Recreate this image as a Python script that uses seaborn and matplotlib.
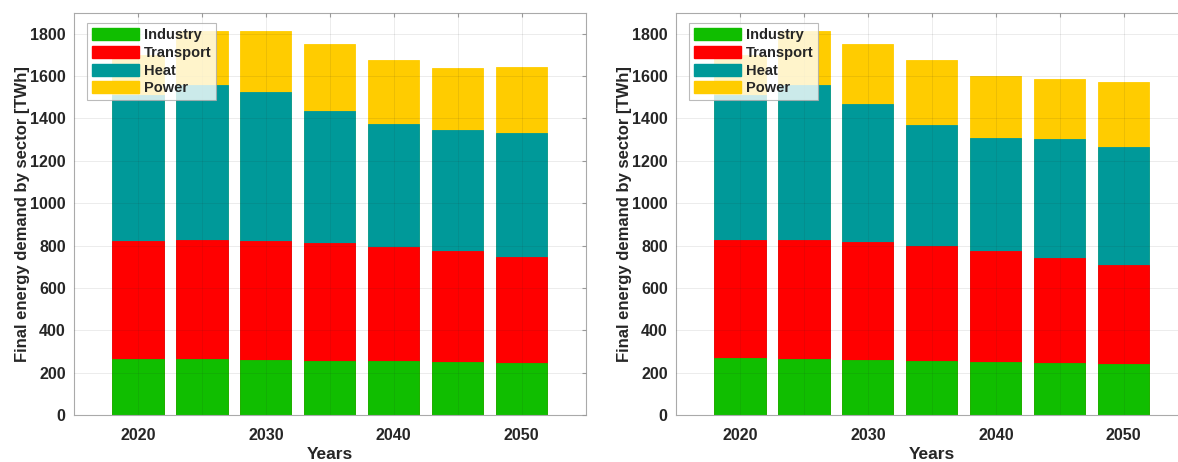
import numpy as np
import pandas as pd
import matplotlib
matplotlib.use("Agg")
import matplotlib.pyplot as plt
import seaborn as sns
from matplotlib.patches import Patch

# Years and sectors
years = [2020, 2025, 2030, 2035, 2040, 2045, 2050]
sectors = ["Industry", "Transport", "Heat", "Power"]
colors = ["#10BE00", "#FF0000", "#009999", "#FFCC00"]

# Left scenario [TWh]
left_industry = [266, 265, 261, 257, 254, 251, 246]
left_transport = [554, 560, 559, 553, 540, 522, 500]
left_heat = [690, 731, 704, 625, 581, 572, 585]
left_power = [190, 259, 288, 317, 300, 291, 310]

# Right scenario [TWh]
right_industry = [271, 263, 258, 253, 249, 244, 239]
right_transport = [554, 562, 558, 547, 524, 499, 468]
right_heat = [684, 735, 654, 569, 536, 560, 558]
right_power = [191, 252, 282, 305, 292, 284, 308]

sns.set_style("white")
plt.rcParams["font.family"] = ["Liberation Sans", "DejaVu Sans"]
plt.rcParams["font.weight"] = "bold"

fig = plt.figure(figsize=(11.78, 4.62), dpi=100)
ax1 = fig.add_axes([74 / 1178, 47 / 462, 511.7 / 1178, 402.5 / 462])
ax2 = fig.add_axes([676 / 1178, 47 / 462, 511.7 / 1178, 402.5 / 462])


def draw_panel(ax, layers):
    # cumulative stacks, drawn from the top layer down
    cum = np.cumsum(np.array(layers), axis=0)
    for i in range(len(layers) - 1, -1, -1):
        df = pd.DataFrame({"year": years, "value": cum[i]})
        sns.barplot(data=df, x="year", y="value", native_scale=True, width=0.8,
                    color=colors[i], saturation=1, edgecolor=colors[i],
                    linewidth=0.6, ax=ax, zorder=1)
    ax.set_xlim(2015, 2055)
    ax.set_ylim(0, 1900)
    ax.set_xticks(years)
    ax.set_xticklabels([str(y) if y % 10 == 0 else "" for y in years])
    ax.set_yticks(range(0, 1801, 200))
    ax.set_axisbelow(False)
    ax.grid(True, color="#262626", alpha=0.1, linewidth=0.6)
    ax.tick_params(direction="in", top=True, right=True, length=3,
                   color="#999999", labelsize=11.5, labelcolor="#262626")
    ax.tick_params(axis="x", pad=9)
    ax.tick_params(axis="y", pad=6)
    for lab in ax.get_xticklabels() + ax.get_yticklabels():
        lab.set_fontweight("bold")
    for sp in ax.spines.values():
        sp.set_color("#AAAAAA")
        sp.set_linewidth(0.8)
    ax.set_xlabel("Years", fontsize=12.5, fontweight="bold", color="#262626", labelpad=3)
    ax.set_ylabel("Final energy demand by sector [TWh]", fontsize=12,
                  fontweight="bold", color="#262626", labelpad=0)
    handles = [Patch(facecolor=c, edgecolor=c, label=s) for c, s in zip(colors, sectors)]
    leg = ax.legend(handles=handles, loc="upper left", bbox_to_anchor=(0.025, 0.974),
                    borderaxespad=0, handlelength=3.2, handleheight=0.9,
                    handletextpad=0.35, labelspacing=0.25, borderpad=0.35,
                    frameon=True, fancybox=False, framealpha=0.8,
                    edgecolor="#AAAAAA", prop={"weight": "bold", "size": 10.5})
    leg.get_frame().set_linewidth(0.8)
    leg.set_zorder(5)


draw_panel(ax1, [left_industry, left_transport, left_heat, left_power])
draw_panel(ax2, [right_industry, right_transport, right_heat, right_power])

fig.savefig("out.png", dpi=100)
